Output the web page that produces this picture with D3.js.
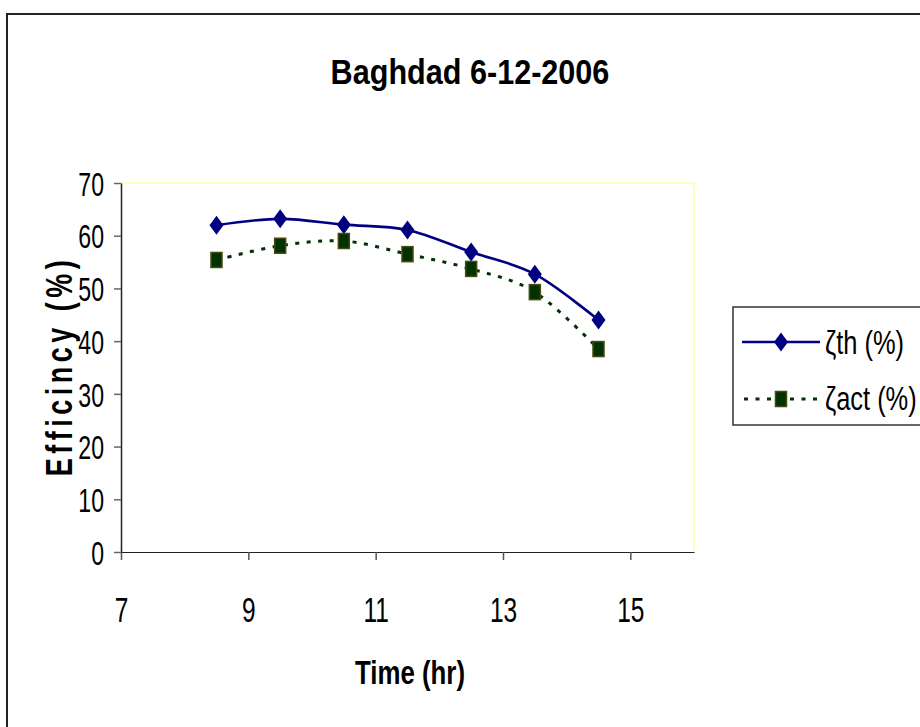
<!DOCTYPE html>
<html>
<head>
<meta charset="utf-8">
<script src="https://cdn.jsdelivr.net/npm/d3@7"></script>
<style>
  body { margin: 0; background: #fff; }
  svg text { font-family: "Liberation Sans", Arial, sans-serif; }
</style>
</head>
<body>
<svg id="chart"></svg>
<script>
// data
var hours = [8.5, 9.5, 10.5, 11.5, 12.5, 13.5, 14.5];
var effTheory = [62.0, 63.2, 62.1, 61.1, 56.9, 52.7, 44.0];
var effActual = [55.4, 58.1, 59.0, 56.5, 53.7, 49.3, 38.5];
var xTicks = [7, 9, 11, 13, 15];
var yTicks = [0, 10, 20, 30, 40, 50, 60, 70];
var seriesNames = ["ζth (%)", "ζact (%)"];

var width = 920, height = 727;
var plot = { left: 121, top: 183, right: 694, bottom: 552 };

var svg = d3.select("#chart")
    .attr("width", width)
    .attr("height", height);

var xScale = d3.scaleLinear().domain([7, 16]).range([plot.left, plot.right]);
var yScale = d3.scaleLinear().domain([0, 70]).range([plot.bottom, plot.top]);

// the original text is tall and narrow, so squeeze it sideways
function narrowText(parent, x, y, sx, str, size, bold, anchor){
    return parent.append("text")
        .attr("transform", `translate(${x}, ${y}) scale(${sx}, 1)`)
        .attr("text-anchor", anchor || "start")
        .attr("font-size", size)
        .attr("font-weight", bold ? "bold" : "normal")
        .text(str);
}

// outer frame
svg.append("rect")
    .attr("x", 7).attr("y", 14)
    .attr("width", 930).attr("height", 740)
    .attr("fill", "none")
    .attr("stroke", "#222")
    .attr("stroke-width", 2);

// plot area border (top / right light yellow)
svg.append("path")
    .attr("d", `M${plot.left},${plot.top}H${plot.right}V${plot.bottom}`)
    .attr("fill", "none")
    .attr("stroke", "#ffffc0")
    .attr("stroke-width", 2);

// title
narrowText(svg, 470, 84, 0.85, "Baghdad 6-12-2006", 36, true, "middle");

// axes
var xAxis = svg.append("g")
    .attr("transform", `translate(0, ${plot.bottom})`)
    .call(d3.axisBottom(xScale).tickValues(xTicks).tickSize(8).tickSizeOuter(0));
xAxis.select(".domain").attr("stroke", "#222").attr("stroke-width", 1.2);
xAxis.selectAll(".tick line").attr("stroke", "#555").attr("stroke-width", 1.5);
xAxis.selectAll("text")
    .attr("y", 0).attr("dy", 0)
    .attr("transform", "translate(0, 70) scale(0.7, 1)")
    .attr("font-size", 35).attr("fill", "#000");

var yAxis = svg.append("g")
    .attr("transform", `translate(${plot.left}, 0)`)
    .call(d3.axisLeft(yScale).tickValues(yTicks).tickSize(7).tickSizeOuter(0));
yAxis.select(".domain").attr("stroke", "#222").attr("stroke-width", 1.5);
yAxis.selectAll(".tick line").attr("stroke", "#666").attr("stroke-width", 1.5);
yAxis.selectAll("text")
    .attr("x", 0).attr("dy", "0.36em")
    .attr("transform", "translate(-17, 0) scale(0.68, 1)")
    .attr("font-size", 34).attr("fill", "#000");

// axis titles
narrowText(svg, 410, 684, 0.76, "Time (hr)", 34, true, "middle");

narrowText(svg, 72, 366, 0.75, "Efficincy (%)", 36, true, "middle")
    .attr("transform", "translate(72, 366) rotate(-90) scale(0.75, 1)")
    .attr("letter-spacing", 6);

// lines
var line = d3.line()
    .x(function(d){ return xScale(d[0]); })
    .y(function(d){ return yScale(d[1]); })
    .curve(d3.curveCardinal.tension(0));

var thPoints = hours.map(function(h, i){ return [h, effTheory[i]]; });
var actPoints = hours.map(function(h, i){ return [h, effActual[i]]; });

svg.append("path")
    .datum(actPoints)
    .attr("d", line)
    .attr("fill", "none")
    .attr("stroke", "#003300")
    .attr("stroke-width", 3)
    .attr("stroke-dasharray", "4,7.5");

svg.append("path")
    .datum(thPoints)
    .attr("d", line)
    .attr("fill", "none")
    .attr("stroke", "#000080")
    .attr("stroke-width", 2.6);

function diamond(g, cx, cy){
    g.append("path")
        .attr("d", `M${cx},${cy - 9.5}L${cx + 7},${cy}L${cx},${cy + 9.5}L${cx - 7},${cy}Z`)
        .attr("fill", "#000080");
}
function square(g, cx, cy){
    g.append("rect")
        .attr("x", cx - 5.5).attr("y", cy - 7.5)
        .attr("width", 11).attr("height", 15)
        .attr("fill", "#003300")
        .attr("stroke", "#4a4a10")
        .attr("stroke-width", 1.5);
}

var marks = svg.append("g");
thPoints.forEach(function(d){ diamond(marks, xScale(d[0]), yScale(d[1])); });
actPoints.forEach(function(d){ square(marks, xScale(d[0]), yScale(d[1])); });

// legend
var legend = svg.append("g");
legend.append("rect")
    .attr("x", 733).attr("y", 307)
    .attr("width", 200).attr("height", 118)
    .attr("fill", "#fff")
    .attr("stroke", "#333")
    .attr("stroke-width", 1.5);

legend.append("line")
    .attr("x1", 742).attr("x2", 820).attr("y1", 342).attr("y2", 342)
    .attr("stroke", "#000080").attr("stroke-width", 2.6);
diamond(legend, 781, 342);
narrowText(legend, 825, 354, 0.77, seriesNames[0], 33, false);

legend.append("line")
    .attr("x1", 744).attr("x2", 820).attr("y1", 399).attr("y2", 399)
    .attr("stroke", "#003300").attr("stroke-width", 3)
    .attr("stroke-dasharray", "4,7.5");
square(legend, 781, 399);
narrowText(legend, 825, 410, 0.77, seriesNames[1], 33, false);
</script>
</body>
</html>
